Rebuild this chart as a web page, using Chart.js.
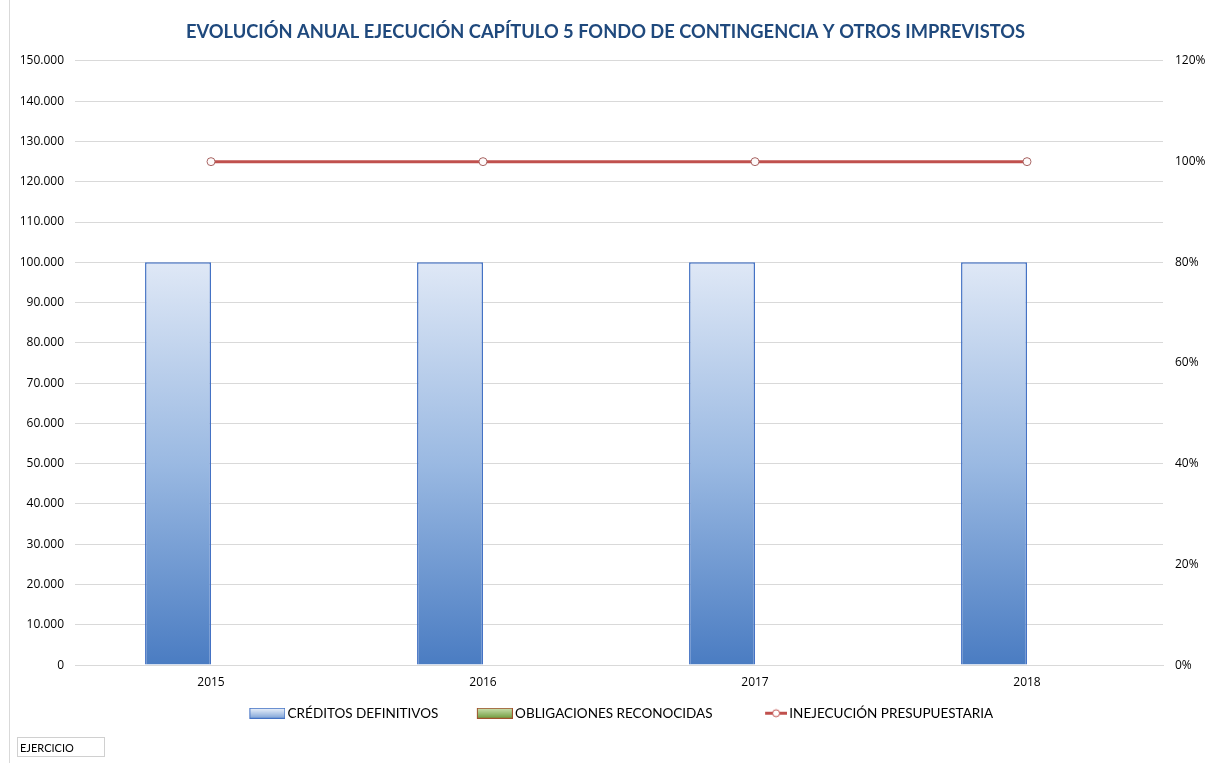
<!DOCTYPE html>
<html lang="es">
<head>
<meta charset="utf-8">
<title>Evolución anual ejecución capítulo 5</title>
<script src="https://cdn.jsdelivr.net/npm/chart.js@4.4.1/dist/chart.umd.min.js"></script>
<style>
    html, body {
        margin: 0;
        padding: 0;
        background: #ffffff;
    }
    #wrap {
        position: relative;
        width: 1211px;
        height: 763px;
        overflow: hidden;
    }
    #frame {
        position: absolute;
        left: 9px;
        top: 0;
        width: 1px;
        height: 763px;
        background: #d9d9d9;
    }
    #fieldBtn {
        position: absolute;
        left: 17px;
        top: 737px;
        width: 88px;
        height: 20px;
        border: 1px solid #d0d0d0;
        font: 11px Lato, "Open Sans", sans-serif;
        line-height: 19px;
        padding-left: 2px;
        box-sizing: border-box;
        color: #000;
    }
</style>
</head>
<body>
<div id="wrap">
    <canvas id="chart" width="1211" height="763"></canvas>
    <div id="frame"></div>
    <div id="fieldBtn">EJERCICIO</div>
</div>
<script>
// Datos del gráfico
const years = ['2015', '2016', '2017', '2018'];
const creditosDefinitivos = [100000, 100000, 100000, 100000];
const obligacionesReconocidas = [0, 0, 0, 0];
const inejecucion = [1.0, 1.0, 1.0, 1.0]; // tanto por uno
const leftTicks = [0, 10000, 20000, 30000, 40000, 50000, 60000, 70000, 80000, 90000, 100000, 110000, 120000, 130000, 140000, 150000];
const rightTicks = [0, 0.2, 0.4, 0.6, 0.8, 1.0, 1.2];

const tickFont = { family: 'Open Sans', size: 12 };
const legendFont = { family: 'Lato', size: 13.5 };

// Degradado vertical de las barras
function barGradient(context) {
    const chart = context.chart;
    const area = chart.chartArea;
    if (!area) return '#8eb0dc';
    const y0 = chart.scales.y.getPixelForValue(0);
    const y1 = chart.scales.y.getPixelForValue(100000);
    const g = chart.ctx.createLinearGradient(0, y1, 0, y0);
    g.addColorStop(0, '#dfe8f6');
    g.addColorStop(0.5, '#9ab9e2');
    g.addColorStop(1, '#4a7cc2');
    return g;
}

// Símbolos de la leyenda: el contenido va pegado al borde derecho,
// el margen transparente de la izquierda separa las entradas
const SYM_STYLE_W = 63;
const SYM_W = SYM_STYLE_W + 9;
const SYM_H = 11;

function makeBoxSymbol(top, bottom, border) {
    const c = document.createElement('canvas');
    c.width = SYM_W;
    c.height = SYM_H;
    const x = c.getContext('2d');
    const left = SYM_W - 36;
    const g = x.createLinearGradient(0, 0, 0, SYM_H);
    g.addColorStop(0, top);
    g.addColorStop(1, bottom);
    x.fillStyle = g;
    x.fillRect(left, 0, 36, SYM_H);
    x.strokeStyle = border;
    x.lineWidth = 1;
    x.strokeRect(left + 0.5, 0.5, 35, SYM_H - 1);
    return c;
}

function makeLineSymbol() {
    const c = document.createElement('canvas');
    c.width = SYM_W;
    c.height = SYM_H;
    const x = c.getContext('2d');
    x.strokeStyle = '#c0504d';
    x.lineWidth = 3;
    x.beginPath();
    x.moveTo(SYM_W - 22, 5.5);
    x.lineTo(SYM_W, 5.5);
    x.stroke();
    x.fillStyle = '#ffffff';
    x.lineWidth = 1;
    x.beginPath();
    x.arc(SYM_W - 11, 5.5, 3.5, 0, Math.PI * 2);
    x.fill();
    x.stroke();
    return c;
}

const legendSymbols = [
    makeBoxSymbol('#f2f6fc', '#7aa0d6', '#4472c4'),
    makeBoxSymbol('#cfe3b4', '#6c9a3a', '#a0522d'),
    makeLineSymbol()
];

const ctx = document.getElementById('chart').getContext('2d');

new Chart(ctx, {
    data: {
        labels: years,
        datasets: [
            {
                type: 'line',
                label: 'INEJECUCIÓN PRESUPUESTARIA',
                data: inejecucion,
                yAxisID: 'y1',
                borderColor: '#c0504d',
                borderWidth: 3,
                pointRadius: 4,
                pointBackgroundColor: '#fefafa',
                pointBorderColor: '#a86664',
                pointBorderWidth: 1,
                order: 0
            },
            {
                type: 'bar',
                label: 'CRÉDITOS DEFINITIVOS',
                data: creditosDefinitivos,
                yAxisID: 'y',
                backgroundColor: barGradient,
                borderColor: '#4472c4',
                borderWidth: 1.5,
                categoryPercentage: 0.485,
                barPercentage: 1,
                order: 1
            },
            {
                type: 'bar',
                label: 'OBLIGACIONES RECONOCIDAS',
                data: obligacionesReconocidas,
                yAxisID: 'y',
                backgroundColor: '#9bbb59',
                borderColor: '#a0522d',
                borderWidth: 0,
                categoryPercentage: 0.485,
                barPercentage: 1,
                order: 2
            }
        ]
    },
    options: {
        responsive: false,
        animation: false,
        layout: {
            padding: { left: 0, right: 0, top: 0, bottom: 33 }
        },
        plugins: {
            title: {
                display: true,
                text: 'EVOLUCIÓN ANUAL EJECUCIÓN CAPÍTULO 5 FONDO DE CONTINGENCIA Y OTROS IMPREVISTOS',
                color: '#1f497d',
                font: { family: 'Lato', size: 18.3, weight: 'bold' },
                padding: { top: 21, bottom: 18 }
            },
            legend: {
                position: 'bottom',
                labels: {
                    usePointStyle: true,
                    pointStyleWidth: SYM_STYLE_W,
                    padding: 7,
                    color: '#000000',
                    font: legendFont,
                    generateLabels: function(chart) {
                        const order = [1, 2, 0];
                        return order.map((di, i) => ({
                            text: chart.data.datasets[di].label,
                            pointStyle: legendSymbols[i],
                            fillStyle: 'transparent',
                            strokeStyle: 'transparent',
                            lineWidth: 0,
                            hidden: false,
                            datasetIndex: di
                        }));
                    }
                }
            },
            tooltip: { enabled: false }
        },
        scales: {
            x: {
                grid: { display: false, drawTicks: false },
                border: { display: true, color: '#d9d9d9', width: 1 },
                ticks: { font: tickFont, color: '#000000', padding: 10 }
            },
            y: {
                position: 'left',
                min: 0,
                max: 150000,
                afterBuildTicks: function(scale) {
                    scale.ticks = leftTicks.map(v => ({ value: v }));
                },
                ticks: {
                    font: tickFont,
                    color: '#000000',
                    padding: 11,
                    callback: v => v.toLocaleString('es-ES', { useGrouping: true }).replace(/\s/g, '.')
                },
                grid: { color: '#d9d9d9', drawTicks: false },
                border: { display: false },
                afterFit: function(scale) {
                    scale.width = 75;
                }
            },
            y1: {
                position: 'right',
                min: 0,
                max: 1.2,
                afterBuildTicks: function(scale) {
                    scale.ticks = rightTicks.map(v => ({ value: v }));
                },
                ticks: {
                    font: tickFont,
                    color: '#000000',
                    padding: 12,
                    callback: v => Math.round(v * 100) + '%'
                },
                grid: { display: false, drawTicks: false },
                border: { display: false },
                afterFit: function(scale) {
                    scale.width = 48;
                }
            }
        }
    }
});
</script>
</body>
</html>
